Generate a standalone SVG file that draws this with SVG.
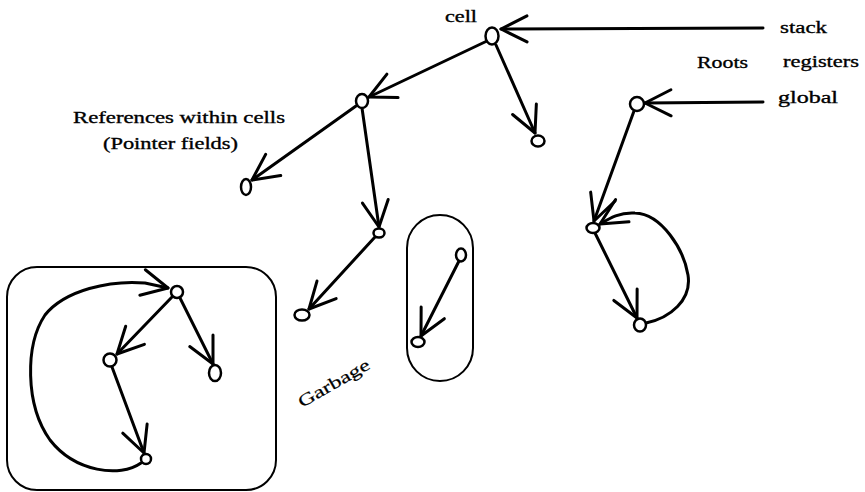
<svg xmlns="http://www.w3.org/2000/svg" width="865" height="492" viewBox="0 0 865 492">
<style>
.e{fill:none;stroke:#000;stroke-width:3;stroke-linecap:round;stroke-linejoin:round;marker-end:url(#ah)}
.n{fill:#fff;stroke:#000;stroke-width:2.5}
.b{fill:none;stroke:#000;stroke-width:2}
.t{font-family:"Liberation Serif","DejaVu Serif",serif;font-size:17px;fill:#000;stroke:#000;stroke-width:0.35}
</style>
<defs>
<marker id="ah" markerUnits="userSpaceOnUse" viewBox="-30 -20 40 40" markerWidth="40" markerHeight="40" refX="0" refY="0" orient="auto" overflow="visible">
<path d="M-26,-13 L0,0 L-26,13" fill="none" stroke="#000" stroke-width="3" stroke-linecap="round" stroke-linejoin="round"/>
</marker>
</defs>
<rect id="garbage-box" class="b" x="7" y="267" width="269" height="223" rx="30"/>
<rect id="garbage-pill" class="b" x="407" y="215" width="66" height="166" rx="33"/>
<g id="connectors">
<path class="e" d="M763,28 L501,29"/>
<path class="e" d="M487,41 L369,97"/>
<path class="e" d="M496,45 L535,133"/>
<path class="e" d="M356,106 L252,180"/>
<path class="e" d="M362,108 L379,227"/>
<path class="e" d="M375,237 L309,309"/>
<path class="e" d="M459,261 L421,336"/>
<path class="e" d="M763,102 L645,103"/>
<path class="e" d="M634,111 L594,221"/>
<path class="e" d="M595,233 L637,318"/>
<path class="e" d="M646,323 C670,318 692,300 688,275 C684,250 662,214 635,213 C620,212 610,218 600,224"/>
<path class="e" d="M172,297 L117,354"/>
<path class="e" d="M180,298 L213,364"/>
<path class="e" d="M112,367 L144,453"/>
<path class="e" d="M141,463 C120,478 75,472 50,440 C25,405 25,345 45,315 C65,290 110,280 145,283 L168,288"/>
</g>
<g id="node-cell"><ellipse class="n" cx="492" cy="36" rx="6.5" ry="8.5"/></g>
<g id="node-b"><ellipse class="n" cx="362" cy="101" rx="6" ry="7"/></g>
<g id="node-c"><ellipse class="n" cx="538" cy="141" rx="6.5" ry="5.5"/></g>
<g id="node-d"><ellipse class="n" cx="246" cy="187" rx="5" ry="8"/></g>
<g id="node-e"><ellipse class="n" cx="379" cy="233" rx="5.5" ry="4.5"/></g>
<g id="node-f"><ellipse class="n" cx="302" cy="315" rx="7.5" ry="5.5"/></g>
<g id="node-g"><ellipse class="n" cx="637" cy="104" rx="7" ry="7"/></g>
<g id="node-h"><ellipse class="n" cx="593" cy="228" rx="6.5" ry="5"/></g>
<g id="node-i"><ellipse class="n" cx="640" cy="325" rx="6" ry="6.5"/></g>
<g id="node-p1"><ellipse class="n" cx="461" cy="255" rx="5" ry="6.5"/></g>
<g id="node-p2"><ellipse class="n" cx="418" cy="342" rx="6.5" ry="5"/></g>
<g id="node-t"><ellipse class="n" cx="177" cy="292" rx="6" ry="6"/></g>
<g id="node-l"><ellipse class="n" cx="110" cy="360" rx="6.5" ry="6.5"/></g>
<g id="node-r"><ellipse class="n" cx="215" cy="373" rx="6" ry="8"/></g>
<g id="node-bt"><ellipse class="n" cx="146" cy="459" rx="5" ry="5"/></g>
<g id="labels">
<text class="t" x="445" y="22" textLength="32" lengthAdjust="spacingAndGlyphs">cell</text>
<text class="t" x="780" y="33" textLength="47" lengthAdjust="spacingAndGlyphs">stack</text>
<text class="t" x="697" y="68" textLength="51" lengthAdjust="spacingAndGlyphs">Roots</text>
<text class="t" x="783" y="67" textLength="76" lengthAdjust="spacingAndGlyphs">registers</text>
<text class="t" x="778" y="103" textLength="60" lengthAdjust="spacingAndGlyphs">global</text>
<text class="t" x="73" y="123" textLength="212" lengthAdjust="spacingAndGlyphs">References within cells</text>
<text class="t" x="103" y="149" textLength="135" lengthAdjust="spacingAndGlyphs">(Pointer fields)</text>
<text class="t" x="302" y="408" font-size="15" textLength="80" lengthAdjust="spacingAndGlyphs" transform="rotate(-30 302 408)" style="stroke-width:0.2">Garbage</text>
</g>
</svg>
